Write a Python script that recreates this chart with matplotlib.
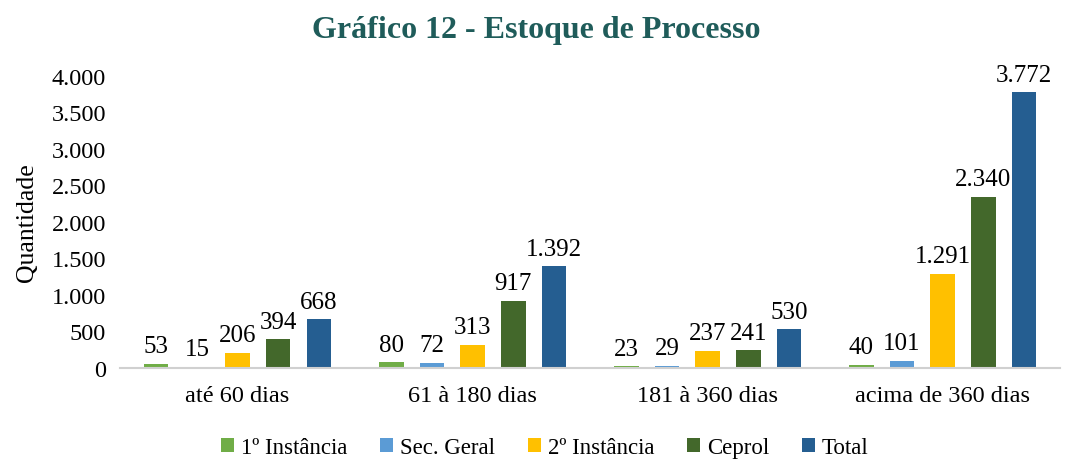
import numpy as np
import matplotlib.pyplot as plt

plt.rcParams['font.family'] = ['Liberation Serif', 'DejaVu Serif']

categorias = ['até 60 dias', '61 à 180 dias', '181 à 360 dias', 'acima de 360 dias']
series = ['1º Instância', 'Sec. Geral', '2º Instância', 'Ceprol', 'Total']
primeira = [53, 80, 23, 40]
sec_geral = [15, 72, 29, 101]
segunda = [206, 313, 237, 1291]
ceprol = [394, 917, 241, 2340]
total = [668, 1392, 530, 3772]
valores = [primeira, sec_geral, segunda, ceprol, total]
cores = ['#70AD47', '#5B9BD5', '#FFC000', '#43682B', '#255E91']


def fmt(v):
    return f'{v:,}'.replace(',', '.')


fig = plt.figure(figsize=(10.72, 4.6), dpi=100)
ax = fig.add_axes([0.112, 0.198, 0.877, 0.635])

x = np.arange(len(categorias))
passo = 0.173
largura = 0.104
for i, (nome, vals, cor) in enumerate(zip(series, valores, cores)):
    pos = x + (i - 2) * passo
    ax.bar(pos, vals, largura, color=cor, label=nome)
    for p, v in zip(pos, vals):
        ax.text(p, v + 90, fmt(v), ha='center', va='bottom', fontsize=18, clip_on=False)

ax.set_xlim(-0.5, 3.5)
ax.set_ylim(0, 4000)
ax.set_yticks(range(0, 4001, 500))
ax.set_yticklabels([fmt(t) for t in range(0, 4001, 500)], fontsize=17.5)
ax.set_xticks(x)
ax.set_xticklabels(categorias, fontsize=17.5)
ax.tick_params(length=0, pad=10)
ax.tick_params(axis='x', pad=12)
for s in ['top', 'right', 'left']:
    ax.spines[s].set_visible(False)
ax.spines['bottom'].set_color('#D0D0D0')
ax.spines['bottom'].set_linewidth(1.5)
ax.set_ylabel('Quantidade', fontsize=18.5, labelpad=10)

fig.suptitle('Gráfico 12 - Estoque de Processo', fontsize=23, fontweight='bold',
             color='#1F5C5A', y=0.965)

ax.legend(loc='upper center', bbox_to_anchor=(0.452, -0.205), ncol=5, frameon=False,
          fontsize=16.5, handlelength=0.55, handleheight=0.55, handletextpad=0.3,
          columnspacing=1.45, borderaxespad=0)

fig.savefig('out.png', dpi=100)
